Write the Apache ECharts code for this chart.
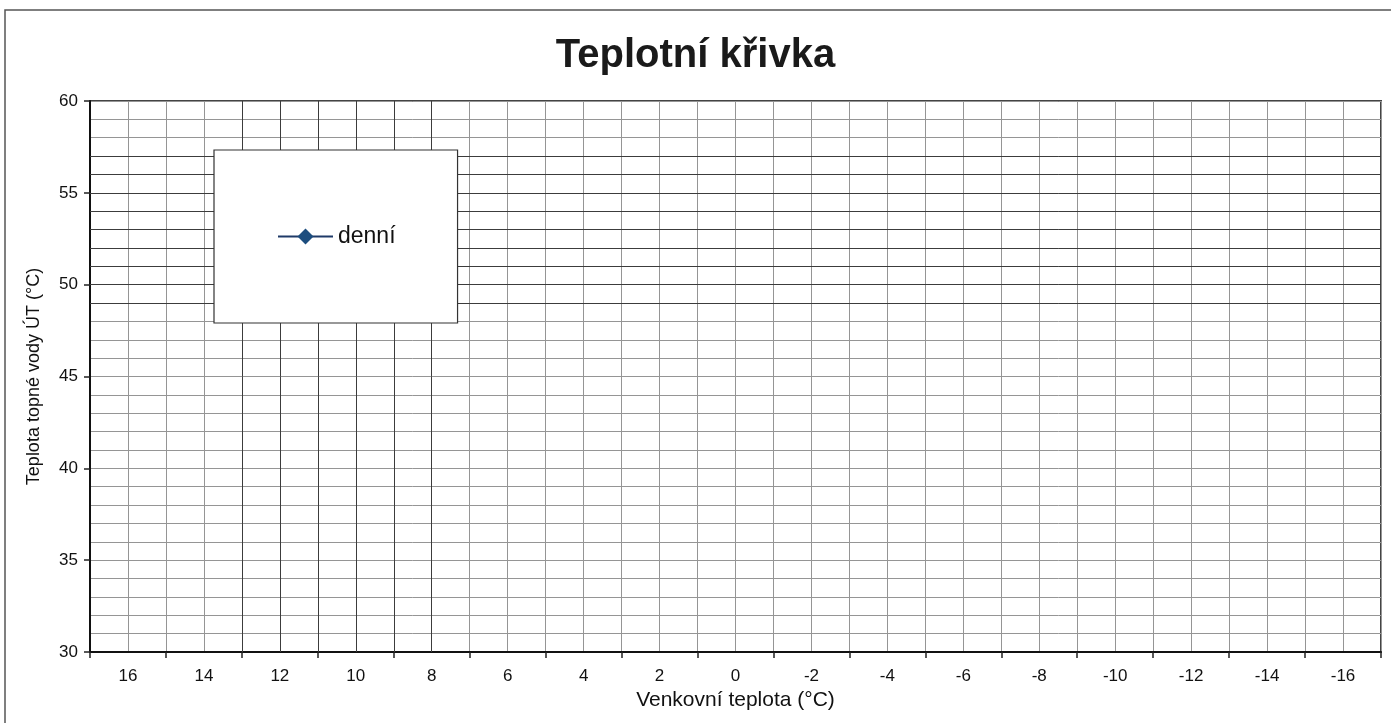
<!DOCTYPE html>
<html>
<head>
<meta charset="utf-8">
<script src="https://cdn.jsdelivr.net/npm/echarts@6/dist/echarts.min.js"></script>
<style>
html,body{margin:0;padding:0;background:#fff;}
#chart{width:1391px;height:723px;}
</style>
</head>
<body>
<div id="chart"></div>
<script>
// Outdoor temperature categories (x axis labels)
const categories = ['16','14','12','10','8','6','4','2','0','-2','-4','-6','-8','-10','-12','-14','-16'];
// Series "denní" – the form is blank, no plotted values
const denniValues = [null,null,null,null,null,null,null,null,null,null,null,null,null,null,null,null,null];
// Y axis range / ticks
const yMin = 30, yMax = 60, yStep = 5, yMinorSplits = 5;
// Grid rows / columns that print darker on the scanned form
const darkRowsY = [49, 50, 51, 52, 53, 54, 55, 56, 57];
const darkColsTemp = [13, 12, 11, 10, 9, 8];

// Half-step grid count for vertical lines (2 per category)
const halfSteps = categories.length * 2;
const firstTemp = Number(categories[0]) + 1; // left edge of plot in °C (17)

const gridColor = '#959595';
const darkGrid = '#3c3c3c';
const textColor = '#111111';
const font = 'Liberation Sans, Arial, sans-serif';

const chart = echarts.init(document.getElementById('chart'), null, {renderer: 'canvas'});
chart.setOption({
  backgroundColor: '#ffffff',
  animation: false,
  title: {
    text: 'Teplotní křivka',
    left: 'center',
    top: 31,
    textStyle: {fontFamily: font, fontSize: 40, fontWeight: 'bold', color: '#1a1a1a'}
  },
  graphic: [{
    type: 'rect',
    shape: {x: 5, y: 10, width: 1500, height: 800},
    style: {fill: 'none', stroke: '#555', lineWidth: 1.5},
    silent: true, z: -1
  }],
  legend: {
    data: ['denní'],
    left: 214,
    top: 150,
    orient: 'vertical',
    z: 20,
    backgroundColor: '#ffffff',
    borderColor: '#333',
    borderWidth: 1.2,
    padding: [75, 62, 75, 63],
    itemWidth: 55,
    itemHeight: 20,
    textStyle: {fontFamily: font, fontSize: 23, color: textColor}
  },
  grid: {
    left: 90, right: 10, top: 101, bottom: 71,
    show: true,
    borderColor: '#444',
    borderWidth: 2,
    backgroundColor: 'transparent'
  },
  xAxis: [{
    type: 'category',
    data: categories,
    boundaryGap: true,
    position: 'bottom',
    name: 'Venkovní teplota (°C)',
    nameLocation: 'middle',
    nameGap: 34,
    nameTextStyle: {fontFamily: font, fontSize: 21, color: textColor},
    axisLine: {show: true, lineStyle: {color: '#111', width: 2}},
    axisTick: {show: true, length: 6, alignWithLabel: false, lineStyle: {color: '#222', width: 1.5}},
    axisLabel: {fontFamily: font, fontSize: 17, color: textColor, margin: 16, interval: 0},
    splitLine: {show: true, lineStyle: {color: gridColor, width: 1}},
    z: 3
  }, {
    type: 'value',
    min: 0,
    max: halfSteps,
    interval: 1,
    position: 'bottom',
    axisLine: {show: false},
    axisTick: {show: false},
    axisLabel: {show: false},
    splitLine: {show: true, lineStyle: {color: gridColor, width: 1}},
    z: 1
  }],
  yAxis: {
    type: 'value',
    min: yMin,
    max: yMax,
    interval: yStep,
    name: 'Teplota topné vody ÚT (°C)',
    nameLocation: 'middle',
    nameGap: 47,
    nameTextStyle: {fontFamily: font, fontSize: 18, color: textColor},
    axisLine: {show: true, lineStyle: {color: '#111', width: 2}},
    axisTick: {show: true, length: 6, lineStyle: {color: '#222', width: 1.5}},
    axisLabel: {fontFamily: font, fontSize: 17, color: textColor, margin: 12},
    splitLine: {show: true, lineStyle: {color: gridColor, width: 1}},
    minorTick: {show: false, splitNumber: yMinorSplits},
    minorSplitLine: {show: true, lineStyle: {color: gridColor, width: 1}},
    z: 3
  },
  series: [{
    name: 'denní',
    type: 'line',
    xAxisIndex: 0,
    data: denniValues,
    symbol: 'diamond',
    symbolSize: 16,
    lineStyle: {color: '#1f3a68', width: 2},
    itemStyle: {color: '#1c4d7e'}
  }, {
    name: 'form-lines',
    type: 'line',
    xAxisIndex: 1,
    data: [],
    silent: true,
    z: 2,
    markLine: {
      silent: true,
      symbol: ['none', 'none'],
      label: {show: false},
      animation: false,
      lineStyle: {color: darkGrid, width: 1, type: 'solid'},
      data: darkRowsY.map(v => ({yAxis: v}))
        .concat(darkColsTemp.map(t => ({xAxis: firstTemp - t})))
    }
  }]
});
</script>
</body>
</html>
